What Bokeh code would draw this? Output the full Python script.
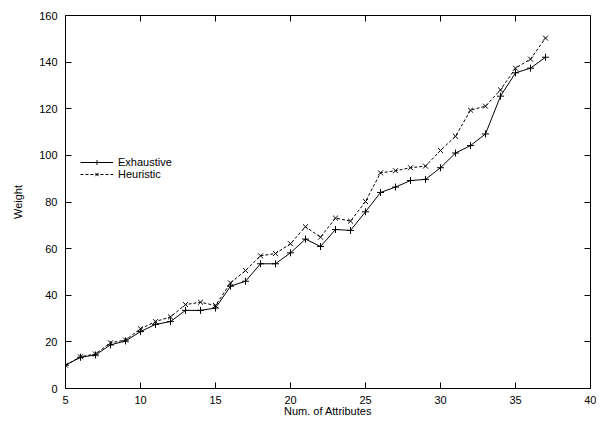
from bokeh.plotting import figure
from bokeh.models import (LinearAxis, Legend, LegendItem, FixedTicker, Range1d)
from bokeh.embed import file_html
from bokeh.resources import INLINE

num_attributes = list(range(5, 38))
exhaustive = [10.0, 13.4, 14.4, 18.7, 20.4, 24.4, 27.5, 28.7, 33.5, 33.5, 34.5,
              43.9, 46.0, 53.5, 53.5, 58.2, 64.1, 60.9, 68.2, 67.8, 75.8, 84.1,
              86.4, 89.2, 89.7, 94.7, 101.0, 104.2, 109.2, 125.4, 135.4, 137.4, 142.1]
heuristic = [10.0, 13.6, 14.8, 19.6, 20.8, 25.6, 28.7, 30.7, 36.0, 37.0, 35.6,
             45.3, 50.6, 56.9, 57.9, 62.1, 69.4, 64.9, 73.1, 71.8, 80.2, 92.5,
             93.4, 94.7, 95.4, 102.1, 108.2, 119.4, 121.1, 128.1, 137.4, 141.3, 150.3]
x_ticks = [5, 10, 15, 20, 25, 30, 35, 40]
y_ticks = [0, 20, 40, 60, 80, 100, 120, 140, 160]

FONT = "Liberation Sans"

p = figure(width=596, height=428, output_backend="svg", toolbar_location=None,
           x_range=Range1d(5, 40), y_range=Range1d(0, 160),
           min_border_left=65, min_border_right=6, min_border_top=15,
           min_border_bottom=40)
p.grid.visible = False
p.outline_line_color = "black"
p.outline_line_width = 1
p.background_fill_color = "white"
p.border_fill_color = "white"

def style_axis(ax, ticks):
    ax.ticker = FixedTicker(ticks=ticks)
    ax.axis_line_color = None
    ax.major_tick_in = 6
    ax.major_tick_out = 0
    ax.major_tick_line_color = "black"
    ax.minor_tick_line_color = None
    ax.major_label_text_font = FONT
    ax.major_label_text_color = "black"
    ax.major_label_text_font_size = "11px"

style_axis(p.xaxis[0], x_ticks)
style_axis(p.yaxis[0], y_ticks)
p.xaxis[0].major_label_standoff = 7
p.yaxis[0].major_label_standoff = 8
p.xaxis[0].axis_label = "Num. of Attributes"
p.yaxis[0].axis_label = "Weight"
for ax in (p.xaxis[0], p.yaxis[0]):
    ax.axis_label_text_font = FONT
    ax.axis_label_text_font_size = "11px"
    ax.axis_label_text_font_style = "normal"
    ax.axis_label_text_color = "black"
p.xaxis[0].axis_label_standoff = -2
p.yaxis[0].axis_label_standoff = 12

# mirrored tick marks (no labels) on the top and right edges
def mirror_axis(ticks):
    ax = LinearAxis(ticker=FixedTicker(ticks=[], minor_ticks=ticks))
    ax.axis_line_color = None
    ax.major_tick_line_color = None
    ax.minor_tick_in = 6
    ax.minor_tick_out = 0
    ax.minor_tick_line_color = "black"
    ax.major_label_standoff = 0
    return ax

p.add_layout(mirror_axis(x_ticks), "above")
p.add_layout(mirror_axis(y_ticks), "right")

l1 = p.line(num_attributes, exhaustive, line_color="black", line_width=1)
m1 = p.scatter(num_attributes, exhaustive, marker="cross", size=7,
               line_color="black", line_width=1)
l2 = p.line(num_attributes, heuristic, line_color="black", line_width=1,
            line_dash="3 2")
m2 = p.scatter(num_attributes, heuristic, marker="x", size=7,
               line_color="black", line_width=1)

legend = Legend(items=[LegendItem(label="Exhaustive", renderers=[l1, m1]),
                       LegendItem(label="Heuristic", renderers=[l2, m2])],
                location=(15, 208), border_line_color=None,
                background_fill_alpha=0, padding=0, margin=0, spacing=0,
                glyph_width=33, glyph_height=12, label_height=12,
                label_standoff=5, label_text_font=FONT,
                label_text_font_size="11px", label_text_color="black")
p.add_layout(legend, "center")

open("out.html", "w").write(file_html(p, INLINE))
